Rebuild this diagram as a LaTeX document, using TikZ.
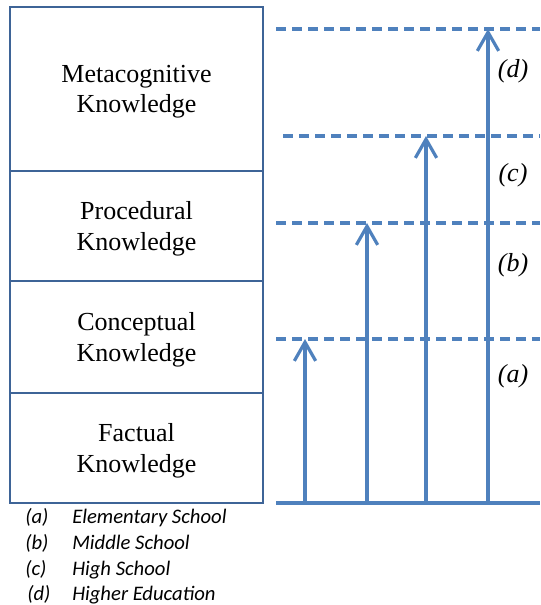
\documentclass[tikz,border=0pt]{standalone}
\usepackage{fontspec}
\setmainfont{Liberation Serif}
\newfontfamily\legendfont{Carlito}
\usetikzlibrary{arrows.meta,positioning}
\definecolor{boxblue}{HTML}{3E6497}
\definecolor{lineblue}{HTML}{4F81BD}

\begin{document}
\begin{tikzpicture}[x=0.75pt,y=-0.75pt,
  level/.style={draw=boxblue, line width=1.6pt, outer sep=0pt,
    minimum width=189.75pt, align=center, text depth=0pt,
    font=\fontsize{19.5}{22.8}\selectfont},
  stage/.style={lineblue, line width=2.4pt,
    -{Straight Barb[length=14pt,width=16pt,line width=2.4pt]}},
  bound/.style={lineblue, line width=2.3pt, dash pattern=on 7.5pt off 4.5pt},
  tag/.style={font=\fontsize{19.5}{23}\selectfont\itshape},
  legend/.style={anchor=base west, inner sep=0pt,
    font=\legendfont\fontsize{15.5}{19.5}\selectfont\itshape}]
  \useasboundingbox (0,0) rectangle (540,605);

  % knowledge levels
  \node[level, minimum height=123pt, anchor=north west] (meta) at (10,7)
    {Metacognitive\\Knowledge};
  \node[level, minimum height=82.5pt, below=0pt of meta] (proc)
    {Procedural\\Knowledge};
  \node[level, minimum height=84pt, below=0pt of proc] (conc)
    {Conceptual\\Knowledge};
  \node[level, minimum height=82.5pt, below=0pt of conc] (fact)
    {Factual\\Knowledge};

  % base line and dashed limits
  \coordinate (baseL) at (276,503);
  \coordinate (baseR) at (540,503);
  \coordinate (limA) at (276,339);
  \coordinate (limB) at (276,223);
  \coordinate (limC) at (283,136);
  \coordinate (limD) at (276,29);
  \draw[lineblue, line width=2.5pt] (baseL) -- (baseR);
  \draw[bound] (limA) -- (baseR |- limA);
  \draw[bound] (limB) -- (baseR |- limB);
  \draw[bound] (limC) -- (baseR |- limC);
  \draw[bound] (limD) -- (baseR |- limD);

  % arrows
  \coordinate (startA) at (305,503);
  \coordinate (startB) at (367,503);
  \coordinate (startC) at (426,503);
  \coordinate (startD) at (488,503);
  \draw[stage] (startA) -- (startA |- limA);
  \draw[stage] (startB) -- (startB |- limB);
  \draw[stage] (startC) -- (startC |- limC);
  \draw[stage] (startD) -- (startD |- limD);

  % stage labels
  \node[tag] (tagA) at (513,376) {(a)};
  \node[tag] (tagB) at (513,265) {(b)};
  \node[tag] (tagC) at (513,175) {(c)};
  \node[tag] (tagD) at (513,71) {(d)};

  % legend
  \node[legend] (keyA) at (25,523) {(a)};
  \node[legend] (nameA) at (72,523) {Elementary School};
  \node[legend] (keyB) at (25,549) {(b)};
  \node[legend] (nameB) at (72,549) {Middle School};
  \node[legend] (keyC) at (25,575) {(c)};
  \node[legend] (nameC) at (72,575) {High School};
  \node[legend] (keyD) at (27,600) {(d)};
  \node[legend] (nameD) at (72,600) {Higher Education};
\end{tikzpicture}
\end{document}
